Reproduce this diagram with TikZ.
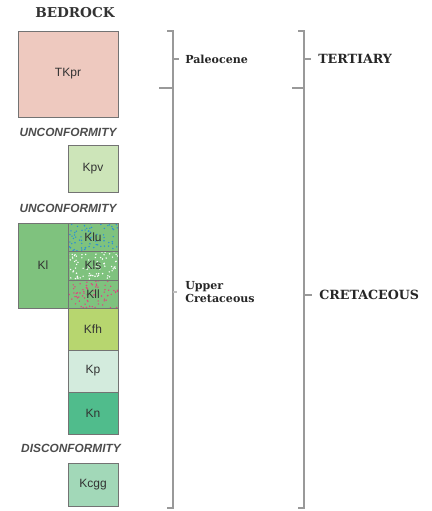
\documentclass[tikz,border=0pt]{standalone}
\usepackage{fontspec}
\setmainfont{DejaVu Serif}
\setsansfont{Liberation Sans}
\usetikzlibrary{positioning,calc}

\definecolor{paleopink}{HTML}{EEC9BF}
\definecolor{kpvgreen}{HTML}{CDE5B9}
\definecolor{klgreen}{HTML}{7FC27E}
\definecolor{kfhgreen}{HTML}{B7D66F}
\definecolor{kppale}{HTML}{D3EBDD}
\definecolor{kngreen}{HTML}{50BC8C}
\definecolor{kcggreen}{HTML}{A2D8B8}
\definecolor{dotblue}{HTML}{2A8FD6}
\definecolor{dotpink}{HTML}{E0447E}

\begin{document}
\begin{tikzpicture}[x=0.75pt, y=-0.75pt,
    unit/.style={draw=black!55, line width=0.6pt, inner sep=0pt, outer sep=0pt,
        minimum width=37.5pt, font=\sffamily\fontsize{9}{10}\selectfont, text=black!80},
    gap/.style={font=\sffamily\bfseries\itshape\fontsize{8.9}{10}\selectfont, text=black!70},
    bracket/.style={draw=black!40, line width=0.9pt},
    period/.style={font=\bfseries\fontsize{8.3}{10}\selectfont, anchor=west, align=left,
        inner sep=0pt, text=black!85},
    system/.style={font=\bfseries\fontsize{9.5}{11}\selectfont, anchor=west,
        inner sep=0pt, text=black!85},
    speckle/.style={path picture={
        \foreach \i in {1,...,80}{
            \fill[#1] ($(path picture bounding box.south west)+(rnd*37.5pt,rnd*22pt)$) circle (0.6pt);
        }}}
]
    \pgfmathsetseed{7}
    \useasboundingbox (0,0) rectangle (432,511);

    % rock units
    \node (bedrock) [font=\bfseries\fontsize{10.2}{12}\selectfont, text=black!80] at (75,13) {BEDROCK};
    \node (tkpr) [unit, fill=paleopink, minimum width=75pt, minimum height=64.5pt] at (68,74) {TKpr};
    \node (unconfA) [gap] at (68,132) {UNCONFORMITY};
    \node (kpv) [unit, fill=kpvgreen, minimum height=35.25pt] at (93,168.5) {Kpv};
    \node (unconfB) [gap] at (68,208) {UNCONFORMITY};
    \node (klu) [unit, fill=klgreen, speckle=dotblue, minimum height=21pt, anchor=north] at (93,223) {Klu};
    \node (kls) [unit, fill=klgreen, speckle=white, minimum height=21.75pt, below=0pt of klu] {Kls};
    \node (kll) [unit, fill=klgreen, speckle=dotpink, minimum height=21pt, below=0pt of kls] {Kll};
    \node (kl) [unit, fill=klgreen, minimum height=63.75pt, anchor=north east] at (klu.north west) {Kl};
    \node (kfh) [unit, fill=kfhgreen, minimum height=31.5pt, below=0pt of kll] {Kfh};
    \node (kp) [unit, fill=kppale, minimum height=31.5pt, below=0pt of kfh] {Kp};
    \node (kn) [unit, fill=kngreen, minimum height=31.5pt, below=0pt of kp] {Kn};
    \node (disconf) [gap] at (71,448) {DISCONFORMITY};
    \node (kcgg) [unit, fill=kcggreen, minimum height=32.25pt, anchor=north] at (93,463) {Kcgg};

    % series bracket
    \draw [bracket] (167,31) -- (173,31) -- (173,508) -- (167,508);
    \draw [bracket] (159,88) -- (173,88);
    \draw [bracket] (173,59) -- (179,59);
    \draw [bracket, draw=black!25] (173,292) -- (177,292);
    \node (paleocene) [period] at (185,59) {Paleocene};
    \node (uppercret) [period] at (185,292) {Upper\\Cretaceous};

    % system bracket
    \draw [bracket] (298,31) -- (304,31) -- (304,508) -- (298,508);
    \draw [bracket] (292,88) -- (304,88);
    \draw [bracket] (304,59) -- (311,59);
    \draw [bracket] (304,295) -- (312,295);
    \node (tertiary) [system] at (318,59) {TERTIARY};
    \node (cretaceous) [system] at (319,295) {CRETACEOUS};
\end{tikzpicture}
\end{document}
